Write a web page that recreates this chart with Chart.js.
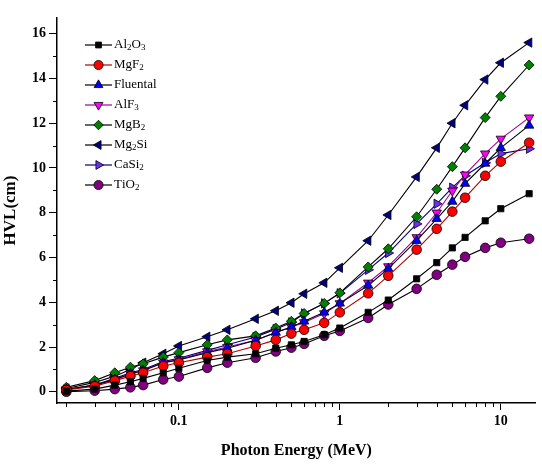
<!DOCTYPE html>
<html>
<head>
<meta charset="utf-8">
<script src="https://cdn.jsdelivr.net/npm/chart.js@4/dist/chart.umd.min.js"></script>
<style>
  html, body { margin: 0; padding: 0; background: #fff; }
</style>
</head>
<body>
<canvas id="hvl" width="542" height="464"></canvas>
<script>
// photon energies (MeV)
const energies = [0.02, 0.03, 0.04, 0.05, 0.06, 0.08, 0.1, 0.15, 0.2, 0.3, 0.4, 0.5, 0.6, 0.8, 1, 1.5, 2, 3, 4, 5, 6, 8, 10, 15];

// HVL (cm) per material
const al2o3    = [0.03, 0.12, 0.3, 0.45, 0.6, 0.85, 1.05, 1.4, 1.55, 1.7, 1.95, 2.1, 2.25, 2.55, 2.85, 3.55, 4.1, 5.05, 5.77, 6.43, 6.9, 7.64, 8.18, 8.85];
const mgf2     = [0.08, 0.25, 0.5, 0.7, 0.85, 1.15, 1.3, 1.55, 1.7, 2.05, 2.32, 2.6, 2.77, 3.08, 3.55, 4.4, 5.18, 6.35, 7.28, 8.05, 8.67, 9.65, 10.28, 11.13];
const fluental = [0.1, 0.3, 0.55, 0.8, 0.95, 1.3, 1.42, 1.75, 1.95, 2.3, 2.65, 2.9, 3.15, 3.55, 3.95, 4.75, 5.5, 6.75, 7.73, 8.5, 9.3, 10.2, 10.9, 11.9];
const alf3     = [0.1, 0.3, 0.55, 0.8, 0.95, 1.3, 1.45, 1.8, 2.0, 2.3, 2.65, 2.9, 3.1, 3.5, 3.95, 4.87, 5.6, 6.9, 8.0, 8.98, 9.7, 10.64, 11.3, 12.25];
const mgb2     = [0.2, 0.5, 0.85, 1.1, 1.25, 1.55, 1.75, 2.1, 2.32, 2.5, 2.85, 3.15, 3.5, 3.95, 4.42, 5.58, 6.39, 7.82, 9.05, 10.06, 10.9, 12.25, 13.2, 14.6];
const mg2si    = [0.15, 0.42, 0.7, 1.0, 1.3, 1.7, 2.05, 2.46, 2.77, 3.26, 3.62, 3.98, 4.38, 4.87, 5.54, 6.75, 7.9, 9.6, 10.9, 12.0, 12.8, 13.95, 14.7, 15.6];
const casi2    = [0.1, 0.3, 0.6, 0.85, 1.0, 1.35, 1.5, 1.85, 2.1, 2.45, 2.8, 3.1, 3.5, 3.95, 4.4, 5.45, 6.2, 7.5, 8.4, 9.12, 9.65, 10.23, 10.64, 10.86];
const tio2     = [0.0, 0.05, 0.12, 0.2, 0.3, 0.55, 0.68, 1.07, 1.3, 1.52, 1.8, 1.97, 2.14, 2.5, 2.72, 3.3, 3.9, 4.6, 5.23, 5.68, 6.03, 6.43, 6.66, 6.84];

// axis ticks
const xMajorTicks = [0.1, 1, 10];
const xMinorTicks = [0.02, 0.03, 0.04, 0.05, 0.06, 0.07, 0.08, 0.09, 0.2, 0.3, 0.4, 0.5, 0.6, 0.7, 0.8, 0.9, 2, 3, 4, 5, 6, 7, 8, 9];
const yMajorTicks = [0, 2, 4, 6, 8, 10, 12, 14, 16];
const yMinorTicks = [1, 3, 5, 7, 9, 11, 13, 15];

const serif = '"Liberation Serif", "Times New Roman", serif';

function series(label, values, line, fill, style, rotation, radius) {
  return {
    label: label,
    data: energies.map((e, i) => ({ x: e, y: values[i] })),
    borderColor: line,
    borderWidth: 1.1,
    pointBackgroundColor: fill,
    pointBorderColor: '#000',
    pointBorderWidth: 0.8,
    pointStyle: style,
    pointRotation: rotation || 0,
    pointRadius: radius || 4.6,
    tension: 0
  };
}

const datasets = [
  series('Al₂O₃', al2o3, '#000000', '#000000', 'rect', 0, 4.4),
  series('MgF₂', mgf2, '#b00000', '#ff0000', 'circle', 0, 4.8),
  series('Fluental', fluental, '#000000', '#0000ff', 'triangle', 0, 5.4),
  series('AlF₃', alf3, '#a000a0', '#ff00ff', 'triangle', 180, 5.4),
  series('MgB₂', mgb2, '#000000', '#008000', 'rectRot', 0, 5),
  series('Mg₂Si', mg2si, '#000000', '#000080', 'triangle', -90, 5.4),
  series('CaSi₂', casi2, '#000080', '#6a2ef0', 'triangle', 90, 5.4),
  series('TiO₂', tio2, '#000000', '#800080', 'circle', 0, 4.8)
];

const subs = '₀₁₂₃₄₅₆₇₈₉';

function drawLabel(ctx, text, x, y) {
  let cx = x;
  for (const ch of text) {
    const k = subs.indexOf(ch);
    if (k >= 0) {
      ctx.font = '9px ' + serif;
      ctx.fillText(String(k), cx, y + 3);
      cx += ctx.measureText(String(k)).width;
    } else {
      ctx.font = '13px ' + serif;
      ctx.fillText(ch, cx, y);
      cx += ctx.measureText(ch).width;
    }
  }
}

const legendBox = {
  id: 'legendBox',
  afterDraw(chart) {
    const ctx = chart.ctx;
    ctx.save();
    chart.data.datasets.forEach((ds, i) => {
      const y = 45 + i * 20;
      ctx.strokeStyle = ds.borderColor;
      ctx.lineWidth = 1.2;
      ctx.beginPath();
      ctx.moveTo(85, y);
      ctx.lineTo(112, y);
      ctx.stroke();
      ctx.fillStyle = ds.pointBackgroundColor;
      ctx.strokeStyle = '#000';
      ctx.lineWidth = 0.8;
      Chart.helpers.drawPoint(ctx, {
        pointStyle: ds.pointStyle,
        rotation: ds.pointRotation,
        radius: ds.pointRadius * 0.95,
        borderWidth: 0.8
      }, 98.5, y);
      ctx.fillStyle = '#000';
      ctx.textBaseline = 'middle';
      drawLabel(ctx, ds.label, 114, y);
    });
    ctx.restore();
  }
};

const minorTicks = {
  id: 'minorTicks',
  afterDraw(chart) {
    const ctx = chart.ctx;
    const xs = chart.scales.x, ys = chart.scales.y;
    ctx.save();
    ctx.strokeStyle = '#000';
    ctx.lineWidth = 1;
    xMinorTicks.forEach(v => {
      const px = Math.round(xs.getPixelForValue(v)) + 0.5;
      ctx.beginPath();
      ctx.moveTo(px, xs.top);
      ctx.lineTo(px, xs.top + 4);
      ctx.stroke();
    });
    yMinorTicks.forEach(v => {
      const py = Math.round(ys.getPixelForValue(v)) + 0.5;
      ctx.beginPath();
      ctx.moveTo(ys.right, py);
      ctx.lineTo(ys.right - 4, py);
      ctx.stroke();
    });
    ctx.restore();
  }
};

new Chart(document.getElementById('hvl'), {
  type: 'line',
  data: { datasets: datasets },
  options: {
    responsive: false,
    animation: false,
    layout: { padding: { top: 18, right: 2, left: 0, bottom: 0 } },
    plugins: { legend: { display: false }, tooltip: { enabled: false } },
    scales: {
      x: {
        type: 'logarithmic',
        min: 0.0175,
        max: 16.5,
        afterBuildTicks: scale => { scale.ticks = xMajorTicks.map(v => ({ value: v })); },
        afterFit: scale => { scale.height = 61; },
        border: { color: '#000', width: 1.5 },
        grid: { drawOnChartArea: false, tickLength: 7, tickColor: '#000', tickWidth: 1 },
        ticks: {
          color: '#000',
          padding: 3,
          font: { family: serif, size: 14, weight: 'bold' },
          callback: v => String(v),
          maxRotation: 0,
          autoSkip: false
        },
        title: {
          display: true,
          text: 'Photon Energy (MeV)',
          color: '#000',
          font: { family: serif, size: 16, weight: 'bold' },
          padding: { top: 4, bottom: 4 }
        }
      },
      y: {
        min: -0.5,
        max: 16.7,
        afterBuildTicks: scale => { scale.ticks = yMajorTicks.map(v => ({ value: v })); },
        afterFit: scale => { scale.width = 57; },
        border: { color: '#000', width: 1.5 },
        grid: { drawOnChartArea: false, tickLength: 8, tickColor: '#000', tickWidth: 1 },
        ticks: {
          color: '#000',
          padding: 3,
          font: { family: serif, size: 14, weight: 'bold' }
        },
        title: {
          display: true,
          text: 'HVL(cm)',
          color: '#000',
          font: { family: serif, size: 17, weight: 'bold' },
          padding: { top: 0, bottom: 2 }
        }
      }
    }
  },
  plugins: [minorTicks, legendBox]
});
</script>
</body>
</html>
